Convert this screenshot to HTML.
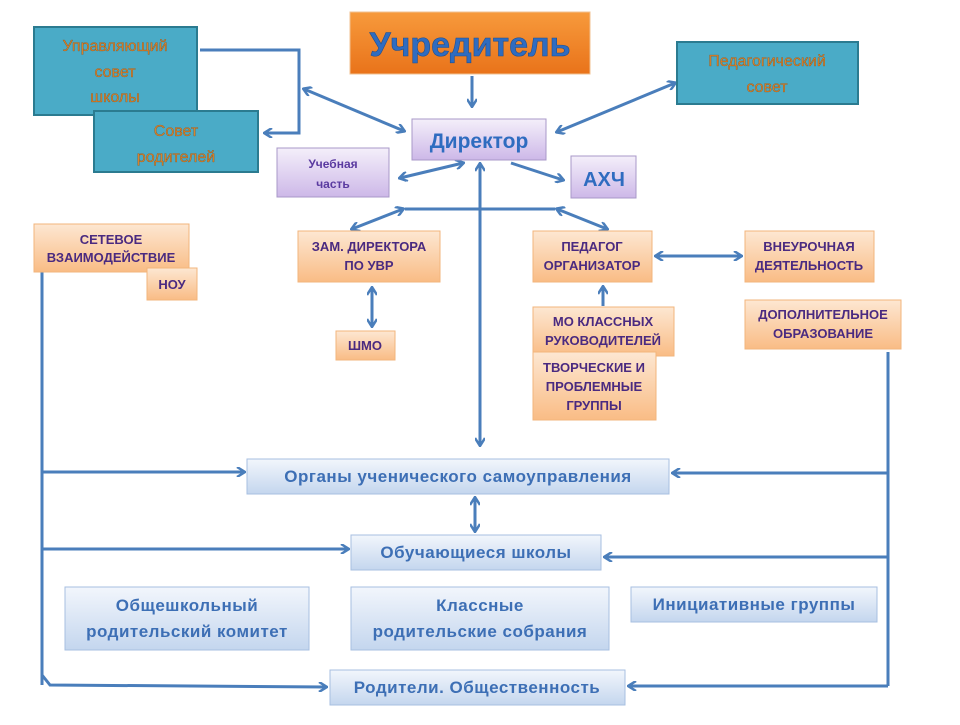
<!DOCTYPE html>
<html><head><meta charset="utf-8"><style>
body{margin:0;background:#fff;width:960px;height:720px;overflow:hidden}
svg text{font-family:"Liberation Sans","DejaVu Sans",sans-serif;text-anchor:middle}
</style></head><body>
<svg width="960" height="720" viewBox="0 0 960 720" xmlns="http://www.w3.org/2000/svg">
<defs>
<linearGradient id="or" x1="0" y1="0" x2="0" y2="1"><stop offset="0" stop-color="#f79a3c"/><stop offset="1" stop-color="#e9731a"/></linearGradient>
<linearGradient id="pe" x1="0" y1="0" x2="0" y2="1"><stop offset="0" stop-color="#fde7d2"/><stop offset="1" stop-color="#f9bc85"/></linearGradient>
<linearGradient id="lv" x1="0" y1="0" x2="0" y2="1"><stop offset="0" stop-color="#f4effa"/><stop offset="1" stop-color="#cdb8e8"/></linearGradient>
<linearGradient id="bl" x1="0" y1="0" x2="0" y2="1"><stop offset="0" stop-color="#f2f6fc"/><stop offset="1" stop-color="#c4d6ee"/></linearGradient>
<marker id="a" markerWidth="10" markerHeight="10" refX="8" refY="5" orient="auto-start-reverse" markerUnits="userSpaceOnUse"><path d="M1,0 L9,5 L1,10" fill="none" stroke="#4a7ebb" stroke-width="2.5"/></marker>
</defs>
<g stroke="#4a7ebb" stroke-width="3" fill="none">
<line x1="472" y1="76" x2="472" y2="106" marker-end="url(#a)"/>
<polyline points="200,50 299,50 299,133 265,133" marker-end="url(#a)"/>
<line x1="304" y1="89" x2="404" y2="131" marker-start="url(#a)" marker-end="url(#a)"/>
<line x1="675" y1="83" x2="557" y2="132" marker-start="url(#a)" marker-end="url(#a)"/>
<line x1="463" y1="163" x2="400" y2="178" marker-start="url(#a)" marker-end="url(#a)"/>
<line x1="511" y1="163" x2="563" y2="180" marker-end="url(#a)"/>
<line x1="480" y1="164" x2="480" y2="445" marker-start="url(#a)" marker-end="url(#a)"/>
<line x1="405" y1="209" x2="555" y2="209"/>
<line x1="403" y1="209" x2="352" y2="229" marker-start="url(#a)" marker-end="url(#a)"/>
<line x1="557" y1="209" x2="607" y2="229" marker-start="url(#a)" marker-end="url(#a)"/>
<line x1="372" y1="288" x2="372" y2="326" marker-start="url(#a)" marker-end="url(#a)"/>
<line x1="656" y1="256" x2="741" y2="256" marker-start="url(#a)" marker-end="url(#a)"/>
<line x1="603" y1="306" x2="603" y2="287" marker-end="url(#a)"/>
<polyline points="42,270 42,685"/>
<line x1="42" y1="472" x2="244" y2="472" marker-end="url(#a)"/>
<line x1="42" y1="549" x2="348" y2="549" marker-end="url(#a)"/>
<polyline points="42,675 50,685 326,687" marker-end="url(#a)"/>
<line x1="888" y1="352" x2="888" y2="686"/>
<line x1="888" y1="473" x2="673" y2="473" marker-end="url(#a)"/>
<line x1="888" y1="557" x2="605" y2="557" marker-end="url(#a)"/>
<line x1="888" y1="686" x2="629" y2="686" marker-end="url(#a)"/>
<line x1="475" y1="498" x2="475" y2="531" marker-start="url(#a)" marker-end="url(#a)"/>
</g>
<g stroke-width="2">
<rect x="350" y="12" width="240" height="62" fill="url(#or)" stroke="#f0c090" stroke-width="1"/>
<rect x="34" y="27" width="163" height="88" fill="#4aabc7" stroke="#2b7b90"/>
<rect x="94" y="111" width="164" height="61" fill="#4aabc7" stroke="#2b7b90"/>
<rect x="677" y="42" width="181" height="62" fill="#4aabc7" stroke="#2b7b90"/>
<rect x="412" y="119" width="134" height="41" fill="url(#lv)" stroke="#a898c8" stroke-width="1"/>
<rect x="277" y="148" width="112" height="49" fill="url(#lv)" stroke="#a898c8" stroke-width="1"/>
<rect x="571" y="156" width="65" height="42" fill="url(#lv)" stroke="#a898c8" stroke-width="1"/>
</g>
<g fill="url(#pe)" stroke="#f2b57c" stroke-width="1">
<rect x="34" y="224" width="155" height="48"/>
<rect x="147" y="268" width="50" height="32"/>
<rect x="298" y="231" width="142" height="51"/>
<rect x="336" y="331" width="59" height="29"/>
<rect x="533" y="231" width="119" height="51"/>
<rect x="745" y="231" width="129" height="51"/>
<rect x="745" y="300" width="156" height="49"/>
<rect x="533" y="307" width="141" height="49"/>
<rect x="533" y="352" width="123" height="68"/>
</g>
<g fill="url(#bl)" stroke="#a7bfe0" stroke-width="1">
<rect x="247" y="459" width="422" height="35"/>
<rect x="351" y="535" width="250" height="35"/>
<rect x="65" y="587" width="244" height="63"/>
<rect x="351" y="587" width="258" height="63"/>
<rect x="631" y="587" width="246" height="35"/>
<rect x="330" y="670" width="295" height="35"/>
</g>
<text x="470" y="56" font-size="34" font-weight="bold" fill="#2f6cc0" stroke="#1f4f90" stroke-width="0.6">Учредитель</text>
<g font-size="16" fill="#d9822b" stroke="#8a4a10" stroke-width="0.3">
<text x="115" y="51">Управляющий</text><text x="115" y="77">совет</text><text x="115" y="102">школы</text>
<text x="176" y="136">Совет</text><text x="176" y="162">родителей</text>
<text x="767" y="66">Педагогический</text><text x="767" y="92">совет</text>
</g>
<text x="479" y="148" font-size="21" font-weight="bold" fill="#2f6cc0">Директор</text>
<text x="604" y="186" font-size="20" font-weight="bold" fill="#2f6cc0">АХЧ</text>
<g font-size="12" font-weight="bold" fill="#5a3aa0"><text x="333" y="168">Учебная</text><text x="333" y="188">часть</text></g>
<g font-size="13" font-weight="bold" fill="#4a2a80">
<text x="111" y="244">СЕТЕВОЕ</text><text x="111" y="262">ВЗАИМОДЕЙСТВИЕ</text>
<text x="172" y="289">НОУ</text>
<text x="369" y="251">ЗАМ. ДИРЕКТОРА</text><text x="369" y="270">ПО УВР</text>
<text x="365" y="350">ШМО</text>
<text x="592" y="251">ПЕДАГОГ</text><text x="592" y="270">ОРГАНИЗАТОР</text>
<text x="809" y="251">ВНЕУРОЧНАЯ</text><text x="809" y="270">ДЕЯТЕЛЬНОСТЬ</text>
<text x="823" y="319">ДОПОЛНИТЕЛЬНОЕ</text><text x="823" y="338">ОБРАЗОВАНИЕ</text>
<text x="603" y="326">МО КЛАССНЫХ</text><text x="603" y="345">РУКОВОДИТЕЛЕЙ</text>
<text x="594" y="372">ТВОРЧЕСКИЕ И</text><text x="594" y="391">ПРОБЛЕМНЫЕ</text><text x="594" y="410">ГРУППЫ</text>
</g>
<g font-size="17" font-weight="bold" fill="#3d6fb5" letter-spacing="0.5">
<text x="458" y="482">Органы ученического самоуправления</text>
<text x="476" y="558">Обучающиеся школы</text>
<text x="187" y="611">Общешкольный</text><text x="187" y="637">родительский комитет</text>
<text x="480" y="611">Классные</text><text x="480" y="637">родительские собрания</text>
<text x="754" y="610">Инициативные группы</text>
<text x="477" y="693">Родители. Общественность</text>
</g>
</svg>
</body></html>
